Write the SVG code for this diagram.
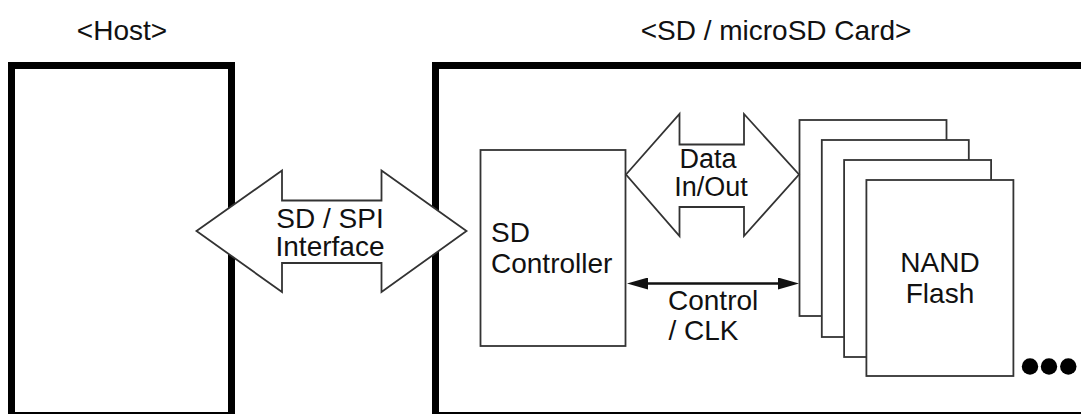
<svg xmlns="http://www.w3.org/2000/svg" width="1081" height="414" viewBox="0 0 1081 414">
<defs>
<style>
.thick{fill:none;stroke:#000;stroke-width:7}
.thin{fill:#fff;stroke:#333;stroke-width:1.8}
.t{font-family:"Liberation Sans",Arial,sans-serif;font-size:28px;fill:#111}
.s{font-size:27px}
.m{text-anchor:middle}
</style>
<marker id="ah" viewBox="0 0 21 12" refX="11" refY="6" markerWidth="21" markerHeight="12" markerUnits="userSpaceOnUse" orient="auto-start-reverse">
<path d="M0,0 L21,6 L0,12 z" fill="#111"/>
</marker>
</defs>
<rect width="1081" height="414" fill="#fff"/>
<g id="host">
<rect class="thick" x="11.5" y="65.5" width="220" height="350"/>
<text class="t m" x="122" y="40">&lt;Host&gt;</text>
</g>
<g id="card">
<rect class="thick" x="435.5" y="65.5" width="700" height="350"/>
<text class="t m" x="776" y="40">&lt;SD / microSD Card&gt;</text>
</g>
<g id="controller">
<rect class="thin" x="480.5" y="150" width="145" height="196"/>
<text class="t" x="491" y="242">SD</text>
<text class="t" x="491" y="273">Controller</text>
</g>
<g id="nand">
<rect class="thin" x="799.5" y="120" width="147" height="196"/>
<rect class="thin" x="821.8" y="140" width="147" height="197"/>
<rect class="thin" x="844.1" y="160" width="147" height="197"/>
<rect class="thin" x="866.4" y="180" width="147" height="196"/>
<text class="t m" x="940" y="272">NAND</text>
<text class="t m" x="940" y="303">Flash</text>
<circle cx="1030" cy="366.5" r="8.2" fill="#000"/>
<circle cx="1049" cy="366.5" r="8.2" fill="#000"/>
<circle cx="1068.3" cy="366.5" r="8.2" fill="#000"/>
</g>
<g id="connectors">
<polygon class="thin" points="196.5,231 282,170.5 282,200.5 381.5,200.5 381.5,170.5 466.5,231 381.5,292 381.5,263 282,263 282,292"/>
<polygon class="thin" points="626,174.5 679.5,114 679.5,144.5 744,144.5 744,114 799,174.5 744,236 744,207 679.5,207 679.5,236"/>
<line x1="637" y1="283.5" x2="789" y2="283.5" stroke="#111" stroke-width="2.6" marker-start="url(#ah)" marker-end="url(#ah)"/>
</g>
<g id="labels">
<text class="t m" x="330" y="228">SD / SPI</text>
<text class="t m" x="330" y="256">Interface</text>
<text class="t s m" x="708" y="168">Data</text>
<text class="t s m" x="711" y="196">In/Out</text>
<text class="t" x="668" y="310">Control</text>
<text class="t" x="668.5" y="340">/ CLK</text>
</g>
</svg>
